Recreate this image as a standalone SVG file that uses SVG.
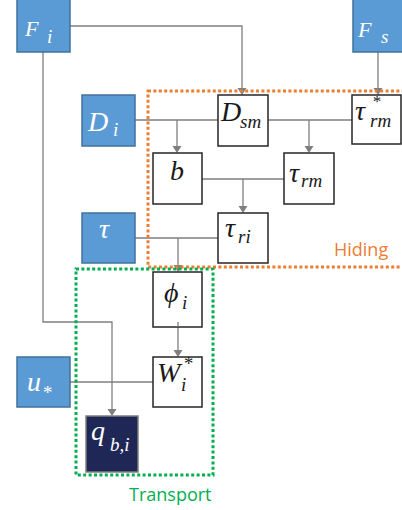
<svg xmlns="http://www.w3.org/2000/svg" width="402" height="510" viewBox="0 0 402 510">
<style>
.in{fill:#5B9BD5;stroke:#41719C;stroke-width:1.5}
.nd{fill:#fff;stroke:#262626;stroke-width:1.5}
.out{fill:#1F2756;stroke:#7F7F7F;stroke-width:1.5}
.m{font-family:"Liberation Serif","DejaVu Serif",serif;font-style:italic;font-size:28px;fill:#1a1a1a}
.w{fill:#fff}
.s{font-size:19px}
.a{font-size:19px}
.f{font-size:22px}
.c{fill:none;stroke:#7F7F7F;stroke-width:1.3}
.lbl{font-family:"Open Sans","Noto Sans",sans-serif;font-size:18px}
</style>
<g id="connectors">
<path class="c" d="M70,26 H242 V89"/>
<path class="c" d="M43,52 V322 H112 V410"/>
<path class="c" d="M378,52 V89"/>
<path class="c" d="M135,120 H218 M177,120 V147"/>
<path class="c" d="M268,120 H352 M309,120 V147"/>
<path class="c" d="M202,179 H284 M243,179 V207"/>
<path class="c" d="M135,238 H218 M178,238 V266"/>
<path class="c" d="M178,322 V351"/>
<path class="c" d="M70,382 H153"/>
<g fill="#7F7F7F">
<path d="M237.5,88 H246.5 L242,95 Z"/>
<path d="M373.5,88 H382.5 L378,95 Z"/>
<path d="M172.5,146 H181.5 L177,153 Z"/>
<path d="M304.5,146 H313.5 L309,153 Z"/>
<path d="M238.5,206 H247.5 L243,213 Z"/>
<path d="M173.5,265 H182.5 L178,272 Z"/>
<path d="M173.5,350 H182.5 L178,357 Z"/>
<path d="M107.5,409 H116.5 L112,416 Z"/>
</g>
</g>
<g id="hiding">
<rect x="148" y="91" width="270" height="176" fill="none" stroke="#ED7D31" stroke-width="3" stroke-dasharray="3 2.4"/>
<text class="lbl" x="334" y="256" fill="#ED7D31">Hiding</text>
</g>
<g id="transport">
<rect x="76" y="269" width="137" height="206" fill="none" stroke="#00B050" stroke-width="3" stroke-dasharray="3 2.4"/>
<text class="lbl" x="129" y="501" fill="#00B050">Transport</text>
</g>
<g id="F_i"><rect class="in" x="17" y="-1" width="53" height="53"/><text class="m w f" x="25" y="36">F<tspan class="s" x="47" y="43">i</tspan></text></g>
<g id="F_s"><rect class="in" x="353" y="-1" width="53" height="53"/><text class="m w f" x="358" y="37">F<tspan class="s" x="381" y="43">s</tspan></text></g>
<g id="D_i"><rect class="in" x="82" y="95" width="53" height="51"/><text class="m w" x="88" y="131">D<tspan class="s" x="113" y="136">i</tspan></text></g>
<g id="tau"><rect class="in" x="82" y="213" width="53" height="50"/><text class="m w" x="99" y="238">τ</text></g>
<g id="u_star"><rect class="in" x="17" y="357" width="53" height="50"/><text class="m w" x="27" y="391">u<tspan class="a" x="42" y="399">*</tspan></text></g>
<g id="D_sm"><rect class="nd" x="218" y="95" width="50" height="51"/><text class="m" x="221" y="121">D<tspan class="s" x="240" y="128">sm</tspan></text></g>
<g id="tau_rm_star"><rect class="nd" x="352" y="95" width="49" height="49"/><text class="m" x="355" y="120">τ<tspan style="font-size:17px" x="372" y="107">*</tspan><tspan class="s" x="370" y="127">rm</tspan></text></g>
<g id="b"><rect class="nd" x="153" y="153" width="49" height="51"/><text class="m" x="170" y="180">b</text></g>
<g id="tau_rm"><rect class="nd" x="284" y="153" width="50" height="51"/><text class="m" x="289" y="182">τ<tspan class="s" x="301" y="187">rm</tspan></text></g>
<g id="tau_ri"><rect class="nd" x="218" y="213" width="50" height="50"/><text class="m" x="225" y="237">τ<tspan class="s" x="238" y="243">ri</tspan></text></g>
<g id="phi_i"><rect class="nd" x="153" y="272" width="49" height="55"/><text class="m" x="164" y="302">ϕ<tspan class="s" x="182" y="309">i</tspan></text></g>
<path class="c" d="M178,322 V327"/>
<g id="W_i_star"><rect class="nd" x="153" y="357" width="49" height="50"/><text class="m" x="157" y="382">W<tspan class="a" x="183" y="370">*</tspan><tspan class="s" x="181" y="391">i</tspan></text></g>
<g id="q_bi"><rect class="out" x="86" y="416" width="52" height="56"/><text class="m w" x="91" y="440">q<tspan class="s" x="110" y="451">b,i</tspan></text></g>
</svg>
